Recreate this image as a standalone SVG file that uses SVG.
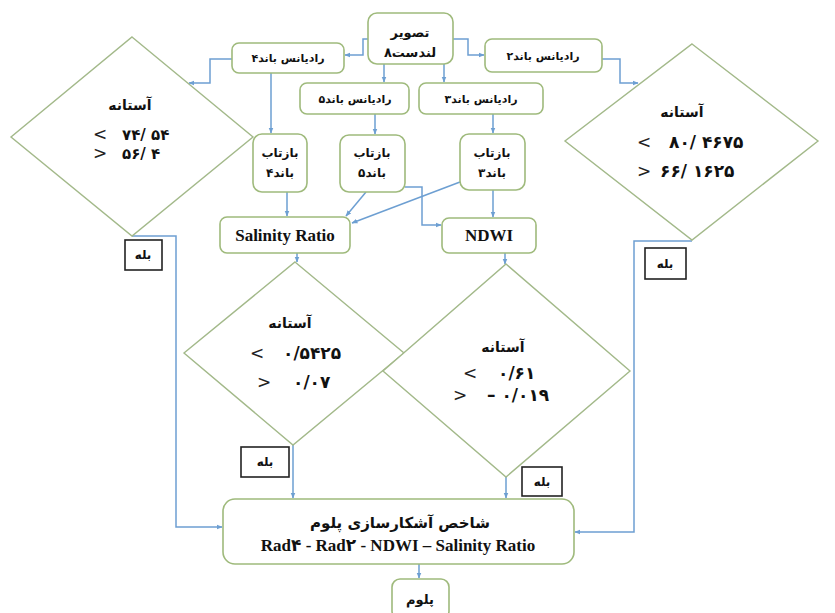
<svg xmlns="http://www.w3.org/2000/svg" width="835" height="613" viewBox="0 0 835 613">
<defs>
<style>
.node{fill:#fff;stroke:#9fba7c;stroke-width:1.6}
.dia{fill:#fff;stroke:#a3b98a;stroke-width:1.4}
.yes{fill:#fff;stroke:#222;stroke-width:1.6}
.con{fill:none;stroke:#6d9fd2;stroke-width:1.5}
.fa{font-family:"DejaVu Sans",sans-serif;font-weight:bold;fill:#111;direction:rtl;text-anchor:middle}
.num{font-family:"DejaVu Sans",sans-serif;font-weight:bold;fill:#111;direction:ltr;unicode-bidi:bidi-override;font-size:17px;letter-spacing:1px}
.sm{font-size:15px;letter-spacing:2.5px}
.op{font-family:"DejaVu Sans",sans-serif;fill:#222;font-size:17px;direction:ltr;unicode-bidi:bidi-override}
.en{font-family:"Liberation Serif","DejaVu Sans",serif;font-weight:bold;fill:#111;font-size:17px;text-anchor:middle;direction:ltr;unicode-bidi:bidi-override}
</style>
<marker id="ah" viewBox="0 0 10 10" refX="9" refY="5" markerWidth="6" markerHeight="6" orient="auto" markerUnits="userSpaceOnUse">
<path d="M0,1 L10,5 L0,9 z" fill="#6d9fd2"/>
</marker>
</defs>
<rect width="835" height="613" fill="#fff"/>

<g id="connectors">
<path class="con" d="M368,39 H363 V55 H345" marker-end="url(#ah)"/>
<path class="con" d="M453,39 H468 V55 H484" marker-end="url(#ah)"/>
<path class="con" d="M384,64 V82" marker-end="url(#ah)"/>
<path class="con" d="M444,64 V82" marker-end="url(#ah)"/>
<path class="con" d="M232,59 H210 V83 H189" marker-end="url(#ah)"/>
<path class="con" d="M602,59 H620 V83 H638" marker-end="url(#ah)"/>
<path class="con" d="M271,73 V133" marker-end="url(#ah)"/>
<path class="con" d="M375,114 V134" marker-end="url(#ah)"/>
<path class="con" d="M493,114 V133" marker-end="url(#ah)"/>
<path class="con" d="M287,192 V216" marker-end="url(#ah)"/>
<path class="con" d="M366,192 L346,216" marker-end="url(#ah)"/>
<path class="con" d="M460,182 L352,223" marker-end="url(#ah)"/>
<path class="con" d="M405,187 H422 V225 H441" marker-end="url(#ah)"/>
<path class="con" d="M493,190 V217" marker-end="url(#ah)"/>
<path class="con" d="M297,253 V262" marker-end="url(#ah)"/>
<path class="con" d="M505,253 V264" marker-end="url(#ah)"/>
<path class="con" d="M132,236 H176 V527 H222" marker-end="url(#ah)"/>
<path class="con" d="M692,241 H634 V532 H575" marker-end="url(#ah)"/>
<path class="con" d="M293,445 V498" marker-end="url(#ah)"/>
<path class="con" d="M506,477 V498" marker-end="url(#ah)"/>
<path class="con" d="M419,564 V578" marker-end="url(#ah)"/>
</g>

<g id="landsat">
<rect class="node" x="368" y="13" width="85" height="51" rx="9"/>
<text class="fa" x="410" y="37" font-size="13">تصویر</text>
<text class="fa" x="410" y="57" font-size="13">لندست۸</text>
</g>
<g id="rad4">
<rect class="node" x="232" y="43" width="112" height="30" rx="7"/>
<text class="fa" x="288" y="62" font-size="11">رادیانس باند۴</text>
</g>
<g id="rad2">
<rect class="node" x="485" y="39" width="117" height="33" rx="7"/>
<text class="fa" x="543" y="60" font-size="11">رادیانس باند۲</text>
</g>
<g id="rad5">
<rect class="node" x="300" y="83" width="109" height="31" rx="7"/>
<text class="fa" x="355" y="103" font-size="11">رادیانس باند۵</text>
</g>
<g id="rad3">
<rect class="node" x="419" y="83" width="124" height="31" rx="7"/>
<text class="fa" x="481" y="103" font-size="11">رادیانس باند۳</text>
</g>
<g id="ref4">
<rect class="node" x="253" y="134" width="54" height="58" rx="9"/>
<text class="fa" x="280" y="157" font-size="12">بازتاب</text>
<text class="fa" x="280" y="177" font-size="12">باند۴</text>
</g>
<g id="ref5">
<rect class="node" x="340" y="135" width="65" height="57" rx="9"/>
<text class="fa" x="372" y="157" font-size="12">بازتاب</text>
<text class="fa" x="372" y="177" font-size="12">باند۵</text>
</g>
<g id="ref3">
<rect class="node" x="460" y="134" width="65" height="56" rx="9"/>
<text class="fa" x="492" y="157" font-size="12">بازتاب</text>
<text class="fa" x="492" y="177" font-size="12">باند۳</text>
</g>
<g id="salinity">
<rect class="node" x="220" y="217" width="130" height="36" rx="7"/>
<text class="en" x="285" y="241">Salinity Ratio</text>
</g>
<g id="ndwi">
<rect class="node" x="442" y="218" width="94" height="35" rx="7"/>
<text class="en" x="489" y="241">NDWI</text>
</g>

<g id="threshold-left">
<polygon class="dia" points="132,37 253,137 132,236 11,137"/>
<text class="fa" x="130" y="110" font-size="14">آستانه</text>
<text class="op sm" x="93" y="140">&lt;</text>
<text class="num sm" x="122" y="140">۷۴/ ۵۴</text>
<text class="op sm" x="93" y="159">&gt;</text>
<text class="num sm" x="122" y="159">۵۶/ ۴</text>
</g>
<g id="threshold-right">
<polygon class="dia" points="692,44 818,141 692,240 565,141"/>
<text class="fa" x="682" y="117" font-size="14">آستانه</text>
<text class="op" x="637" y="148">&lt;</text>
<text class="num" x="669" y="148">۸۰/ ۴۶۷۵</text>
<text class="op" x="637" y="177">&gt;</text>
<text class="num" x="660" y="177">۶۶/ ۱۶۲۵</text>
</g>
<g id="threshold-salinity">
<polygon class="dia" points="295,262 404,353 293,445 184,353"/>
<text class="fa" x="290" y="328" font-size="14">آستانه</text>
<text class="op" x="250" y="359">&lt;</text>
<text class="num" x="283" y="359">۰/۵۴۲۵</text>
<text class="op" x="257" y="388">&gt;</text>
<text class="num" x="293" y="388">۰/۰۷</text>
</g>
<g id="threshold-ndwi">
<polygon class="dia" points="506,264 630,371 506,477 383,371"/>
<text class="fa" x="503" y="352" font-size="14">آستانه</text>
<text class="op" x="463" y="379">&lt;</text>
<text class="num" x="498" y="379">۰/۶۱</text>
<text class="op" x="453" y="401">&gt;</text>
<text class="num" x="487" y="401">– ۰/۰۱۹</text>
</g>

<g id="yes-left">
<rect class="yes" x="125" y="240" width="37" height="30"/>
<text class="fa" x="143" y="259" font-size="12">بله</text>
</g>
<g id="yes-right">
<rect class="yes" x="645" y="248" width="41" height="31"/>
<text class="fa" x="665" y="268" font-size="12">بله</text>
</g>
<g id="yes-salinity">
<rect class="yes" x="241" y="447" width="48" height="30"/>
<text class="fa" x="265" y="466" font-size="12">بله</text>
</g>
<g id="yes-ndwi">
<rect class="yes" x="522" y="467" width="40" height="29"/>
<text class="fa" x="542" y="486" font-size="12">بله</text>
</g>

<g id="plume-index">
<rect class="node" x="223" y="499" width="351" height="65" rx="12"/>
<text class="fa" x="400" y="528" font-size="15">شاخص آشکارسازی پلوم</text>
<text class="en" x="398" y="551">Rad۴ - Rad۲ - NDWI – Salinity Ratio</text>
</g>
<g id="plume">
<rect class="node" x="392" y="579" width="57" height="40" rx="8"/>
<text class="fa" x="420" y="604" font-size="13">پلوم</text>
</g>
</svg>
